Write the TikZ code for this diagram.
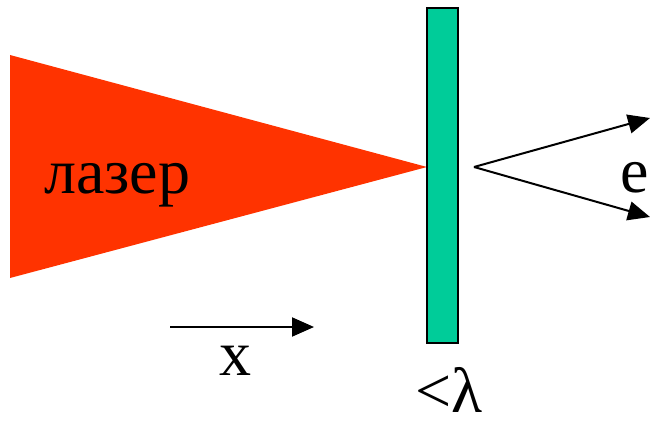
\documentclass[tikz,border=0pt]{standalone}
\usepackage{fontspec}
\setmainfont{Liberation Serif}
\usetikzlibrary{arrows.meta}
\definecolor{laser}{HTML}{FF3300}
\definecolor{plate}{HTML}{00CC99}
\tikzset{
  lbl/.style={inner sep=0pt, font=\fontsize{64}{68}\selectfont},
  ray/.style={line width=2pt, -{Triangle[length=22pt,width=19pt]}}
}
\begin{document}
\begin{tikzpicture}[x=1pt,y=-1pt]
\useasboundingbox (0,0) rectangle (650,420);
\fill[laser] (10,55) -- (427,167) -- (10,278) -- cycle;
\node[lbl, anchor=base west] (laser) at (44,193) {лазер};
\draw[fill=plate, line width=2pt] (427,8) rectangle (458,343);
\node[lbl, anchor=base] (lam) at (449,412) {<λ};
\coordinate (src) at (474,167);
\coordinate (up) at (650,118);
\coordinate (dn) at (650,217);
\draw[ray] (src) -- (up);
\draw[ray] (src) -- (dn);
\node[lbl, anchor=base] (e) at (635,192) {e};
\coordinate (xa) at (170,327);
\coordinate (xb) at (314,327);
\draw[ray] (xa) -- (xb);
\node[lbl, anchor=base] (x) at (235,375) {x};
\end{tikzpicture}
\end{document}
